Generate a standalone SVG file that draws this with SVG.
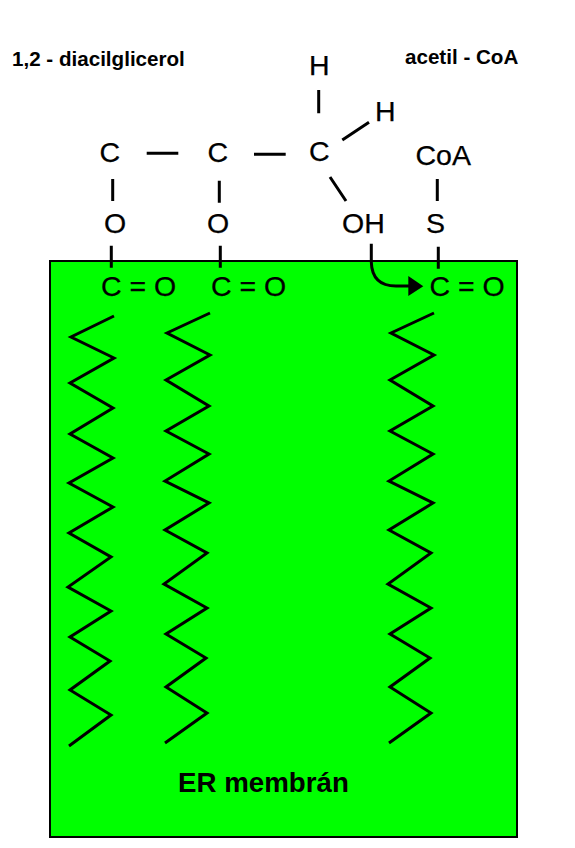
<svg xmlns="http://www.w3.org/2000/svg" width="575" height="848" viewBox="0 0 575 848">
<style>
text{font-family:"Liberation Sans",Arial,sans-serif;fill:#000}
.a{font-size:28.500px;stroke:#000;stroke-width:.25}
.b{font-size:20.600px;font-weight:bold}
.e{font-size:27.700px;font-weight:bold}
.l{fill:none;stroke:#000;stroke-width:3}
.z{fill:none;stroke:#000;stroke-width:3;stroke-linejoin:miter}
</style>
<rect width="575" height="848" fill="#fff"/>
<g id="membrane"><rect x="50" y="261" width="467" height="576" fill="#00ff00" stroke="#000" stroke-width="2"/><text class="e" x="178" y="792">ER membrán</text></g>
<g id="tail-1"><polyline class="z" points="114,316 71,337 114,358 70,383 113,408 70,434 113,458 69,483 113,507 69,533 111,557 68,587 111,611 70,637 110,661 70,690 111,715 69,746"/></g>
<g id="tail-2"><polyline class="z" points="210,313 167,333 210,355 166,380 209,406 166,431 209,454 165,481 209,503 165,530 207,553 164,584 207,608 166,634 206,658 166,687 207,713 165,743"/></g>
<g id="tail-3"><polyline class="z" points="434,313 391,333 434,355 390,380 433,406 390,431 433,454 389,481 433,503 389,530 431,553 388,584 431,608 390,634 430,658 390,687 431,713 389,743"/></g>
<g id="connectors">
<path class="l" d="M146.700 153.300H178.300M254 154.300H285.700M112.700 179V201M219.300 180.700V202.700M111.300 245.700V267.700M220.300 245.700V267.700M318.700 90V113.300M342.300 140L369 122.300M330 177L346 201M437.300 179V201M438.300 246.700V268.700"/>
<path class="l" d="M371.300 243.700V262Q372 286 396 286H410"/>
<polygon points="408.300,276 423.300,286.300 408.300,296"/>
</g>
<g id="title-left"><text class="b" x="12" y="66">1,2 - diacilglicerol</text></g>
<g id="title-right"><text class="b" x="405" y="63.500">acetil - CoA</text></g>
<g id="c1"><text class="a" x="99.500" y="162">C</text></g>
<g id="c2"><text class="a" x="207.500" y="162">C</text></g>
<g id="c3"><text class="a" x="309" y="161">C</text></g>
<g id="h1"><text class="a" x="309" y="75">H</text></g>
<g id="h2"><text class="a" x="375" y="121">H</text></g>
<g id="o1"><text class="a" x="104" y="233">O</text></g>
<g id="o2"><text class="a" x="207" y="233">O</text></g>
<g id="oh"><text class="a" x="342" y="233">OH</text></g>
<g id="s"><text class="a" x="426" y="233">S</text></g>
<g id="coa"><text class="a" x="415.500" y="165">CoA</text></g>
<g id="co1"><text class="a" x="101" y="296">C = O</text></g>
<g id="co2"><text class="a" x="211" y="296">C = O</text></g>
<g id="co3"><text class="a" x="429.500" y="296">C = O</text></g>
</svg>
